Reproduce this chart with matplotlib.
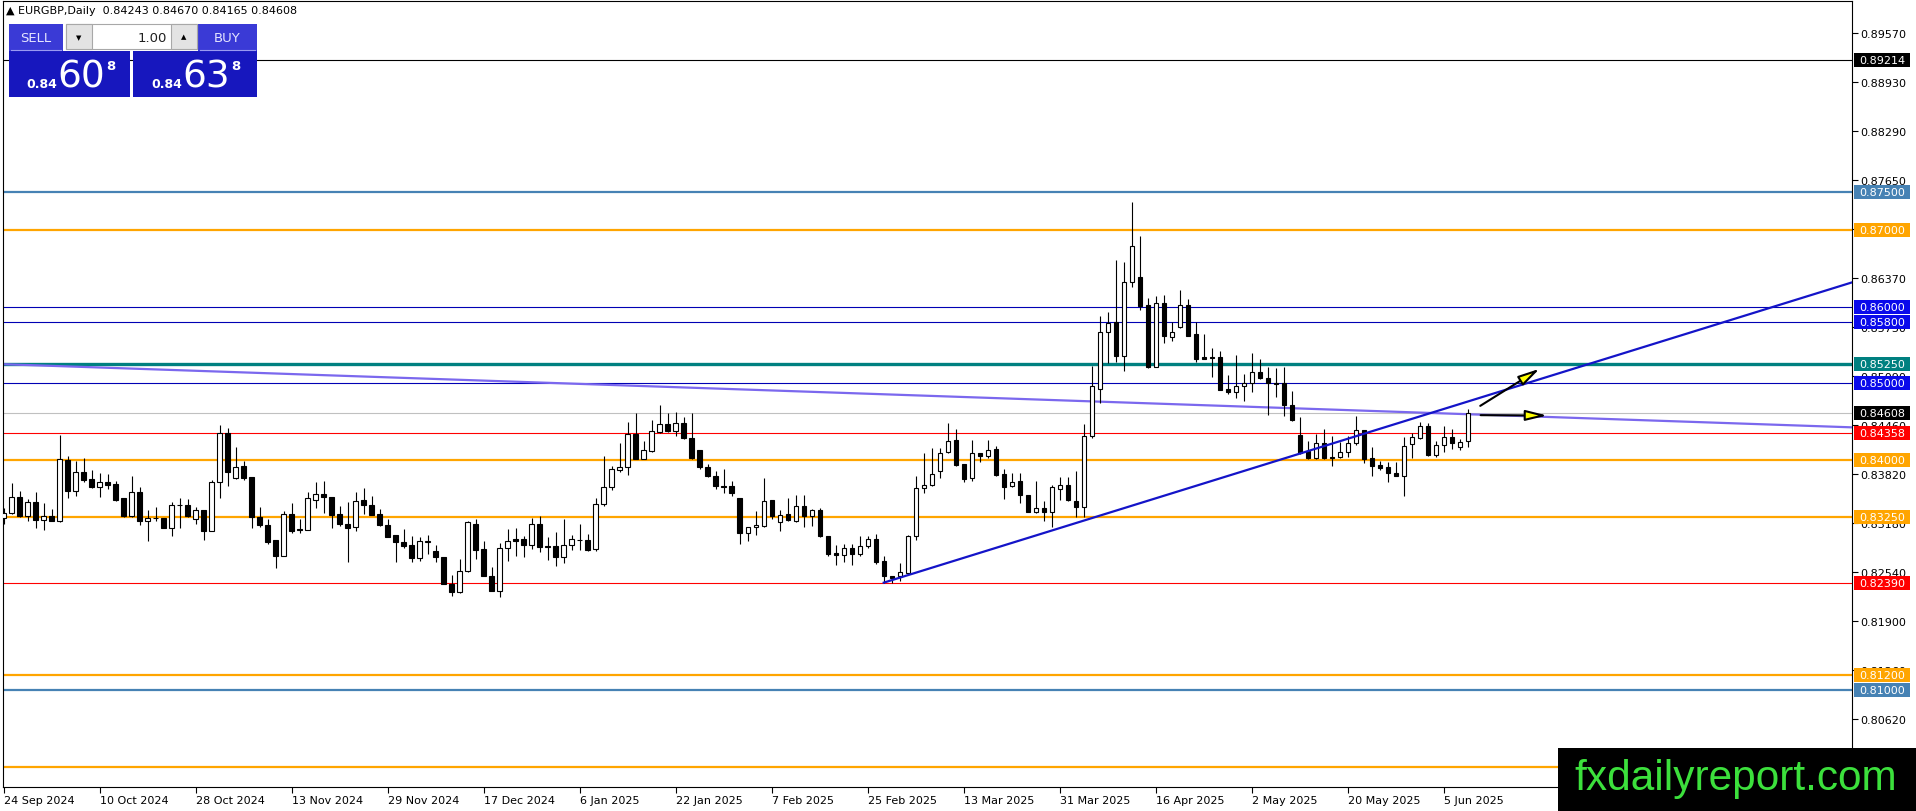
import numpy as np
import matplotlib
matplotlib.use("Agg")
import matplotlib.pyplot as plt
from matplotlib.patches import Rectangle, FancyArrowPatch

# ---------------------------------------------------------------
# EURGBP daily candles, 24 Sep 2024 .. 10 Jun 2025
# ---------------------------------------------------------------
opens = [
    0.83239, 0.83304, 0.83513, 0.83274, 0.83452, 0.83217, 0.83265, 0.83209, 0.84004, 0.83600,
    0.83848, 0.83752, 0.83643, 0.83713, 0.83687, 0.83504, 0.83265, 0.83583, 0.83200, 0.83243,
    0.83243, 0.83117, 0.83413, 0.83413, 0.83230, 0.83348, 0.83078, 0.83709, 0.84348, 0.83761,
    0.83917, 0.83774, 0.83260, 0.83151, 0.82956, 0.82751, 0.83295, 0.83099, 0.83090, 0.83478,
    0.83556, 0.83512, 0.83295, 0.83164, 0.83121, 0.83478, 0.83412, 0.83295, 0.83151, 0.83021,
    0.82925, 0.82890, 0.82716, 0.82930, 0.82816, 0.82730, 0.82382, 0.82273, 0.82547, 0.83164,
    0.82838, 0.82490, 0.82295, 0.82848, 0.82969, 0.82969, 0.82896, 0.83161, 0.82874, 0.82874,
    0.82730, 0.82891, 0.82952, 0.82952, 0.82839, 0.83426, 0.83644, 0.83874, 0.83909, 0.84339,
    0.84013, 0.84122, 0.84361, 0.84470, 0.84374, 0.84483, 0.84283, 0.84131, 0.83904, 0.83787,
    0.83657, 0.83657, 0.83500, 0.83043, 0.83122, 0.83143, 0.83478, 0.83187, 0.83291, 0.83209,
    0.83396, 0.83265, 0.83348, 0.83004, 0.82787, 0.82765, 0.82848, 0.82774, 0.82874, 0.82969,
    0.82678, 0.82482, 0.82482, 0.82526, 0.83004, 0.83631, 0.83679, 0.83861, 0.84100, 0.84261,
    0.83948, 0.83765, 0.84091, 0.84048, 0.84143, 0.83817, 0.83656, 0.83721, 0.83543, 0.83325,
    0.83369, 0.83317, 0.83621, 0.83677, 0.83469, 0.83382, 0.84317, 0.84926, 0.85674, 0.85795,
    0.85360, 0.86317, 0.86383, 0.86022, 0.85217, 0.86043, 0.85608, 0.85730, 0.86022, 0.85643,
    0.85339, 0.85339, 0.85339, 0.84926, 0.84882, 0.84960, 0.85004, 0.85143, 0.85065, 0.85004,
    0.85000, 0.84721, 0.84326, 0.84121, 0.84021, 0.84217, 0.84034, 0.84034, 0.84099, 0.84217,
    0.84391, 0.84021, 0.83934, 0.83904, 0.83830, 0.83795, 0.84204, 0.84282, 0.84439, 0.84065,
    0.84199, 0.84295, 0.84165, 0.84243,
]
highs = [
    0.83369, 0.83700, 0.83600, 0.83491, 0.83587, 0.83439, 0.83361, 0.84331, 0.84057, 0.83991,
    0.84022, 0.83874, 0.83830, 0.83817, 0.83722, 0.83509, 0.83787, 0.83652, 0.83352, 0.83383,
    0.83248, 0.83448, 0.83500, 0.83491, 0.83383, 0.83352, 0.83743, 0.84457, 0.84413, 0.84165,
    0.83991, 0.83778, 0.83382, 0.83230, 0.82960, 0.83334, 0.83438, 0.83230, 0.83586, 0.83708,
    0.83730, 0.83517, 0.83395, 0.83447, 0.83586, 0.83630, 0.83534, 0.83360, 0.83230, 0.83025,
    0.83099, 0.83004, 0.82990, 0.83021, 0.82890, 0.82734, 0.82499, 0.82708, 0.83208, 0.83230,
    0.82947, 0.82599, 0.82917, 0.83100, 0.83109, 0.83013, 0.83243, 0.83265, 0.82991, 0.83056,
    0.83230, 0.83022, 0.83165, 0.83035, 0.83500, 0.84048, 0.83918, 0.84222, 0.84500, 0.84613,
    0.84252, 0.84526, 0.84718, 0.84613, 0.84622, 0.84557, 0.84613, 0.84135, 0.83948, 0.83861,
    0.83883, 0.83730, 0.83504, 0.83126, 0.83339, 0.83765, 0.83483, 0.83348, 0.83504, 0.83544,
    0.83544, 0.83361, 0.83374, 0.83009, 0.82896, 0.82904, 0.82904, 0.83013, 0.83013, 0.83035,
    0.82743, 0.82487, 0.82656, 0.83022, 0.83787, 0.84091, 0.84152, 0.84152, 0.84479, 0.84405,
    0.83952, 0.84261, 0.84096, 0.84266, 0.84186, 0.83882, 0.83830, 0.83830, 0.83547, 0.83721,
    0.83469, 0.83677, 0.83773, 0.83773, 0.83852, 0.84469, 0.85230, 0.85874, 0.85926, 0.86609,
    0.86578, 0.87361, 0.86917, 0.86109, 0.86135, 0.86152, 0.85804, 0.86222, 0.86100, 0.85804,
    0.85643, 0.85456, 0.85426, 0.85108, 0.85369, 0.85121, 0.85395, 0.85317, 0.85208, 0.85195,
    0.85208, 0.84904, 0.84556, 0.84252, 0.84339, 0.84404, 0.84308, 0.84230, 0.84308, 0.84569,
    0.84395, 0.84165, 0.83991, 0.83978, 0.83978, 0.84295, 0.84347, 0.84491, 0.84478, 0.84243,
    0.84447, 0.84404, 0.84273, 0.84670,
]
lows = [
    0.83161, 0.83290, 0.83261, 0.83200, 0.83109, 0.83091, 0.83200, 0.83196, 0.83504, 0.83535,
    0.83709, 0.83635, 0.83522, 0.83622, 0.83469, 0.83261, 0.83261, 0.83156, 0.82939, 0.83200,
    0.83109, 0.83013, 0.83117, 0.83252, 0.83165, 0.82956, 0.83074, 0.83509, 0.83665, 0.83752,
    0.83743, 0.83117, 0.83121, 0.82903, 0.82586, 0.82743, 0.83047, 0.83047, 0.83086, 0.83369,
    0.83304, 0.83108, 0.83143, 0.82664, 0.83077, 0.83295, 0.83286, 0.83134, 0.82990, 0.82673,
    0.82847, 0.82673, 0.82686, 0.82773, 0.82673, 0.82378, 0.82229, 0.82264, 0.82534, 0.82708,
    0.82482, 0.82290, 0.82208, 0.82687, 0.82752, 0.82730, 0.82839, 0.82804, 0.82700, 0.82613,
    0.82652, 0.82830, 0.82830, 0.82817, 0.82817, 0.83404, 0.83613, 0.83839, 0.83804, 0.84009,
    0.84009, 0.84100, 0.84357, 0.84361, 0.84309, 0.84279, 0.84018, 0.83883, 0.83774, 0.83622,
    0.83570, 0.83526, 0.82904, 0.82948, 0.83026, 0.83122, 0.83230, 0.83078, 0.83200, 0.83187,
    0.83122, 0.83143, 0.83000, 0.82752, 0.82635, 0.82674, 0.82635, 0.82743, 0.82848, 0.82643,
    0.82395, 0.82395, 0.82426, 0.82504, 0.82961, 0.83570, 0.83665, 0.83761, 0.84096, 0.83926,
    0.83709, 0.83722, 0.83970, 0.84022, 0.83786, 0.83491, 0.83651, 0.83438, 0.83317, 0.83308,
    0.83208, 0.83130, 0.83482, 0.83469, 0.83251, 0.83251, 0.84282, 0.84739, 0.85265, 0.85282,
    0.85165, 0.86261, 0.85961, 0.85200, 0.85213, 0.85526, 0.85556, 0.85726, 0.85613, 0.85282,
    0.85313, 0.85087, 0.84913, 0.84860, 0.84804, 0.84773, 0.84882, 0.85056, 0.84586, 0.84817,
    0.84569, 0.84512, 0.84078, 0.84017, 0.84012, 0.84012, 0.83917, 0.84021, 0.84034, 0.84195,
    0.83960, 0.83786, 0.83873, 0.83708, 0.83786, 0.83534, 0.84021, 0.84273, 0.84056, 0.84043,
    0.84099, 0.84143, 0.84130, 0.84165,
]
closes = [
    0.83304, 0.83513, 0.83269, 0.83452, 0.83217, 0.83265, 0.83209, 0.84013, 0.83600, 0.83848,
    0.83739, 0.83652, 0.83717, 0.83678, 0.83478, 0.83265, 0.83583, 0.83200, 0.83243, 0.83248,
    0.83113, 0.83413, 0.83418, 0.83265, 0.83348, 0.83078, 0.83709, 0.84348, 0.83839, 0.83904,
    0.83761, 0.83252, 0.83151, 0.82934, 0.82751, 0.83295, 0.83077, 0.83082, 0.83499, 0.83556,
    0.83512, 0.83286, 0.83164, 0.83108, 0.83469, 0.83412, 0.83286, 0.83151, 0.82999, 0.82925,
    0.82882, 0.82716, 0.82938, 0.82943, 0.82730, 0.82382, 0.82273, 0.82547, 0.83186, 0.82830,
    0.82490, 0.82295, 0.82847, 0.82948, 0.82948, 0.82896, 0.83161, 0.82861, 0.82870, 0.82730,
    0.82891, 0.82969, 0.82961, 0.82830, 0.83426, 0.83644, 0.83883, 0.83909, 0.84339, 0.84013,
    0.84131, 0.84374, 0.84470, 0.84374, 0.84483, 0.84283, 0.84022, 0.83904, 0.83787, 0.83657,
    0.83653, 0.83570, 0.83043, 0.83122, 0.83152, 0.83461, 0.83265, 0.83287, 0.83222, 0.83396,
    0.83265, 0.83348, 0.83004, 0.82774, 0.82765, 0.82848, 0.82774, 0.82874, 0.82969, 0.82665,
    0.82482, 0.82461, 0.82535, 0.83013, 0.83631, 0.83679, 0.83817, 0.84091, 0.84244, 0.83939,
    0.83752, 0.84087, 0.84048, 0.84135, 0.83808, 0.83643, 0.83708, 0.83543, 0.83325, 0.83369,
    0.83317, 0.83643, 0.83677, 0.83477, 0.83382, 0.84317, 0.84969, 0.85674, 0.85787, 0.85360,
    0.86317, 0.86796, 0.86013, 0.85217, 0.86043, 0.85621, 0.85665, 0.86022, 0.85621, 0.85317,
    0.85317, 0.85335, 0.84917, 0.84882, 0.84960, 0.85004, 0.85143, 0.85065, 0.85004, 0.84991,
    0.84721, 0.84526, 0.84091, 0.84021, 0.84217, 0.84021, 0.84021, 0.84099, 0.84217, 0.84391,
    0.84012, 0.83925, 0.83899, 0.83825, 0.83795, 0.84186, 0.84295, 0.84439, 0.84065, 0.84199,
    0.84295, 0.84217, 0.84239, 0.84608,
]

# one label every 12 bars, starting at the first bar
date_labels = [
    "24 Sep 2024", "10 Oct 2024", "28 Oct 2024", "13 Nov 2024", "29 Nov 2024",
    "17 Dec 2024", "6 Jan 2025", "22 Jan 2025", "7 Feb 2025", "25 Feb 2025",
    "13 Mar 2025", "31 Mar 2025", "16 Apr 2025", "2 May 2025", "20 May 2025",
    "5 Jun 2025",
]
LABEL_STEP = 12

price_ticks = [0.89570, 0.88930, 0.88290, 0.87650, 0.87010, 0.86370, 0.85730,
               0.85090, 0.84460, 0.83820, 0.83180, 0.82540, 0.81900, 0.81260, 0.80620]

# horizontal levels: price, line colour, line width, tag colour (None = tag hidden)
levels = [0.89214, 0.87500, 0.87000, 0.86000, 0.85800, 0.85250, 0.85000,
          0.84608, 0.84358, 0.84000, 0.83250, 0.82390, 0.81200, 0.81000, 0.80000]
level_colors = ["#000000", "#4682B4", "#FFA500", "#0000B4", "#0000B4", "#008080", "#0000B4",
                "#C0C0C0", "#FF0000", "#FFA500", "#FFA500", "#FF0000", "#FFA500", "#4682B4",
                "#FFA500"]
level_widths = [0.8, 1.6, 1.6, 0.8, 0.8, 2.4, 0.8, 0.8, 0.8, 1.6, 1.6, 0.8, 1.6, 1.6, 1.6]
label_colors = ["#000000", "#4682B4", "#FFA500", "#0A0AEB", "#0A0AEB", "#008080", "#0A0AEB",
                "#000000", "#FF0000", "#FFA500", "#FFA500", "#FF0000", "#FFA500", "#4682B4",
                None]

# drawn objects (bar index, price)
trend_up_x, trend_up_y = [110, 231], [0.82400, 0.86317]
trend_down_x, trend_down_y = [-0.125, 231], [0.85250, 0.84426]
arrow_up = [(184.25, 0.84687), (192.25, 0.85209)]
arrow_flat = [(184.25, 0.84585), (193.25, 0.84580)]

header = "\u25B2 EURGBP,Daily  0.84243 0.84670 0.84165 0.84608"

W, H = 1916, 812
plt.rcParams["font.family"] = ["DejaVu Sans"]

fig = plt.figure(figsize=(W / 100, H / 100), dpi=100)
fig.patch.set_facecolor("white")
ax = fig.add_axes([2.5 / W, 24 / H, 1849.5 / W, 786 / H])

o = np.array(opens)
h = np.array(highs)
l = np.array(lows)
c = np.array(closes)
x = np.arange(len(o))
bull = c >= o

# ---------------------------------------------------------------
# level lines and trend lines
# ---------------------------------------------------------------
for lvl, col, lw in zip(levels, level_colors, level_widths):
    ax.axhline(lvl, color=col, lw=lw, zorder=1)

ax.plot(trend_down_x, trend_down_y, color="#7B68EE", lw=1.6, zorder=2)
ax.plot(trend_up_x, trend_up_y, color="#1414C8", lw=1.6, zorder=5)

# ---------------------------------------------------------------
# candles
# ---------------------------------------------------------------
ax.vlines(x, l, h, color="black", lw=0.8, zorder=3)
bottoms = np.minimum(o, c)
heights = np.maximum(np.abs(c - o), 0.00002)
ax.bar(x, heights, width=0.55, bottom=bottoms,
       color=np.where(bull, "white", "black"), edgecolor="black",
       linewidth=0.8, zorder=4)

for (x0, y0), (x1, y1) in (arrow_up, arrow_flat):
    ax.add_patch(FancyArrowPatch((x0, y0), (x1, y1),
                                 arrowstyle="-|>,head_length=13,head_width=3.2",
                                 mutation_scale=1, fc="#FFFF00", ec="black",
                                 lw=1.5, zorder=6))

ax.set_xlim(-0.125, 231)
ax.set_ylim(0.79734, 0.89988)

# ---------------------------------------------------------------
# axes styling (MT4-like)
# ---------------------------------------------------------------
ax.yaxis.tick_right()
ax.set_yticks(price_ticks)
ax.set_yticklabels([f"{t:.5f}" for t in price_ticks])
ax.set_xticks(np.arange(len(date_labels)) * LABEL_STEP)
ax.set_xticklabels(date_labels, ha="left")
ax.tick_params(axis="y", length=4, width=0.8, pad=2, labelsize=8, colors="black")
ax.tick_params(axis="x", length=4, width=0.8, pad=2, labelsize=8, colors="black")
for sp in ax.spines.values():
    sp.set_linewidth(0.8)
    sp.set_color("black")

# ---------------------------------------------------------------
# overlay in pixel coordinates: price tags, panel, watermark
# ---------------------------------------------------------------
ov = fig.add_axes([0, 0, 1, 1], zorder=10)
ov.set_xlim(0, W)
ov.set_ylim(H, 0)
ov.axis("off")
ov.patch.set_alpha(0)


def price_to_px(p):
    return H - ax.transData.transform((0, p))[1]


for lvl, col in zip(levels, label_colors):
    if col is None:
        continue
    yp = price_to_px(lvl)
    ov.add_patch(Rectangle((1854, yp - 7), 56, 14, fc=col, ec="none", zorder=2))
    ov.text(1859, yp, f"{lvl:.5f}", color="white", fontsize=8, va="center", ha="left",
            zorder=3)

# header line
ov.text(6, 11, header, fontsize=8, va="center", ha="left", color="black")

# SELL / lot / BUY panel
btn_blue = "#3A3AD6"
box_blue = "#1717BE"
ov.add_patch(Rectangle((9, 25), 54, 27, fc=btn_blue, ec="none"))
ov.add_patch(Rectangle((198, 25), 59, 27, fc=btn_blue, ec="none"))
ov.plot([11, 61], [50.5, 50.5], color="#9A9AF2", lw=0.8)
ov.plot([200, 255], [50.5, 50.5], color="#9A9AF2", lw=0.8)
ov.text(36, 38.5, "SELL", color="#E4E4FF", fontsize=9.5, ha="center", va="center")
ov.text(227.5, 38.5, "BUY", color="#E4E4FF", fontsize=9.5, ha="center", va="center")

ov.add_patch(Rectangle((66, 25), 131, 25, fc="white", ec="#A8A8A8", lw=0.8))
ov.add_patch(Rectangle((66, 25), 26, 25, fc="#E3E3E3", ec="#A8A8A8", lw=0.8))
ov.add_patch(Rectangle((171, 25), 26, 25, fc="#E3E3E3", ec="#A8A8A8", lw=0.8))
ov.text(79, 38, "\u25BC", fontsize=5, ha="center", va="center", color="black")
ov.text(184, 37, "\u25B2", fontsize=5, ha="center", va="center", color="black")
ov.text(167, 38, "1.00", fontsize=9.5, ha="right", va="center", color="#202020")

ov.add_patch(Rectangle((9, 52), 121, 46, fc=box_blue, ec="none"))
ov.add_patch(Rectangle((133, 52), 124, 46, fc=box_blue, ec="none"))
for x0, big in ((26, "60"), (151, "63")):
    ov.text(x0, 88, "0.84", color="white", fontsize=9, fontweight="bold",
            ha="left", va="baseline")
    ov.text(x0 + 31, 88, big, color="white", fontsize=27, ha="left", va="baseline")
    ov.text(x0 + 80, 67, "8", color="white", fontsize=9.5, fontweight="bold",
            ha="left", va="center")

# watermark, on top of everything in the corner
ov.add_patch(Rectangle((1558, 749), W - 1558, H - 749, fc="black", ec="none", zorder=20))
ov.text(1574, 790, "fxdailyreport.com", color="#3CE03C", fontsize=30.5,
        family=["Liberation Sans", "DejaVu Sans"], ha="left", va="baseline", zorder=21)

fig.savefig("out.png", dpi=100, facecolor="white")
